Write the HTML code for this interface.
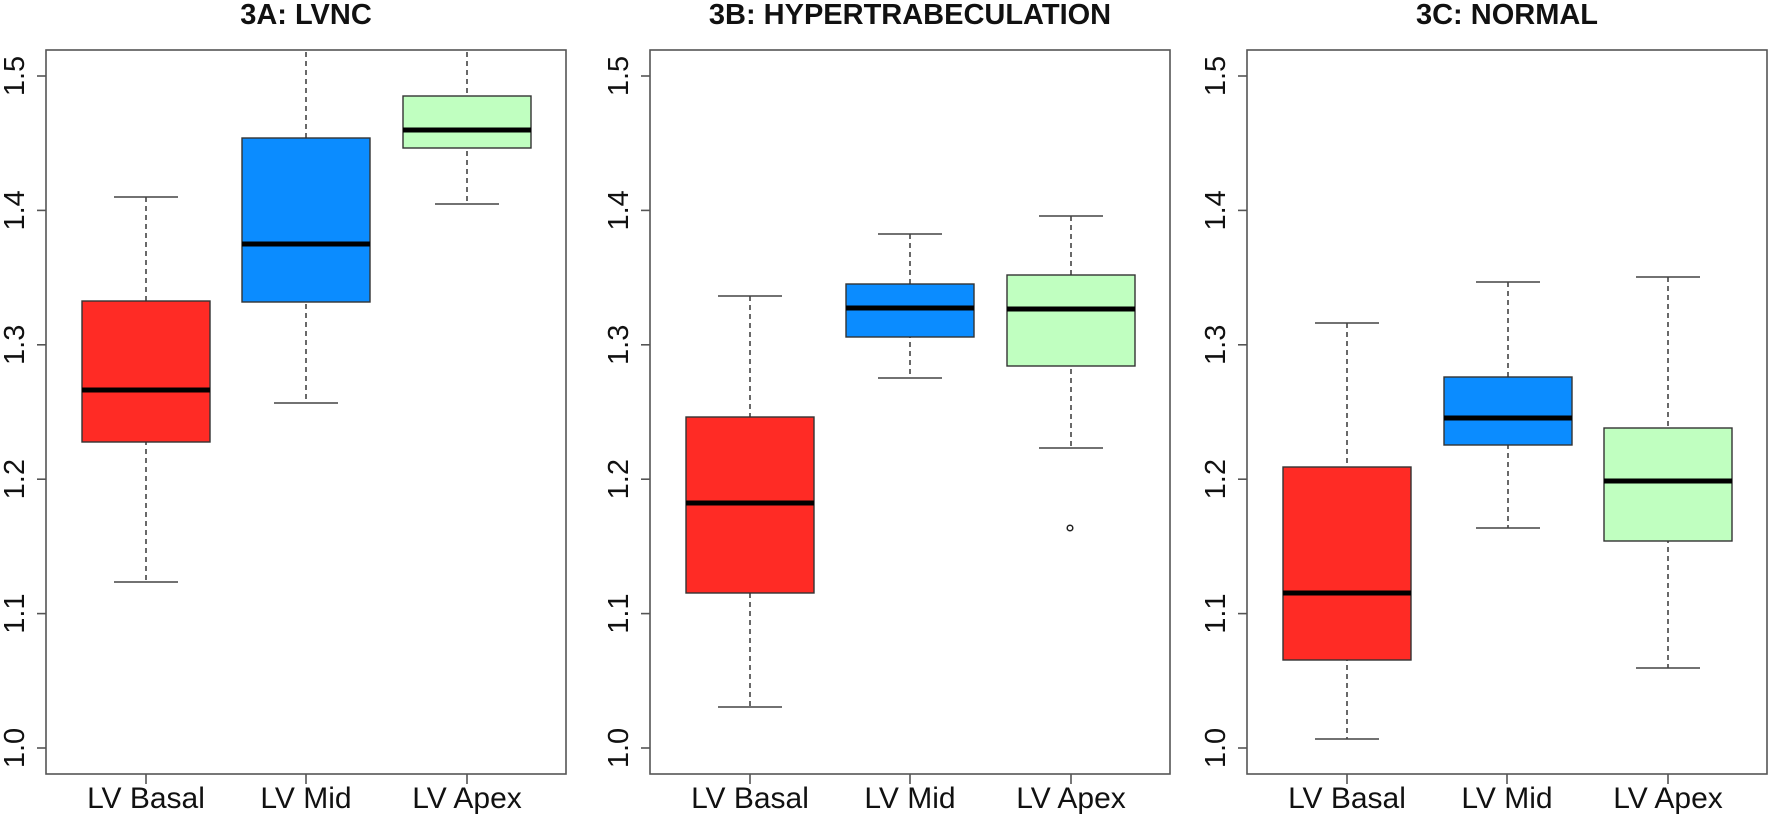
<!DOCTYPE html>
<html><head><meta charset="utf-8"><style>
html,body{margin:0;padding:0;background:#fff;}
svg{display:block;font-family:"Liberation Sans",Arial,sans-serif;}
.ax{fill:none;stroke:#555;stroke-width:1.6}
.wh{stroke:#444;stroke-width:1.6;stroke-dasharray:5,4}
.cap{stroke:#444;stroke-width:1.6}
.bx{stroke:#333;stroke-width:1.4}
.md{stroke:#000;stroke-width:5}
.yl{font-size:29px;fill:#111;text-anchor:middle}
.xl{font-size:30px;fill:#111;text-anchor:middle}
.tt{font-size:29px;font-weight:bold;fill:#111;text-anchor:middle}
</style></head><body>
<svg width="1770" height="816" viewBox="0 0 1770 816" xmlns="http://www.w3.org/2000/svg">
<defs>
<g id="yax">
<line class="ax" x1="-9" y1="76" x2="0" y2="76"/>
<line class="ax" x1="-9" y1="210.4" x2="0" y2="210.4"/>
<line class="ax" x1="-9" y1="344.8" x2="0" y2="344.8"/>
<line class="ax" x1="-9" y1="479.2" x2="0" y2="479.2"/>
<line class="ax" x1="-9" y1="613.6" x2="0" y2="613.6"/>
<line class="ax" x1="-9" y1="748" x2="0" y2="748"/>
<text class="yl" transform="translate(-22,76) rotate(-90)">1.5</text>
<text class="yl" transform="translate(-22,210.4) rotate(-90)">1.4</text>
<text class="yl" transform="translate(-22,344.8) rotate(-90)">1.3</text>
<text class="yl" transform="translate(-22,479.2) rotate(-90)">1.2</text>
<text class="yl" transform="translate(-22,613.6) rotate(-90)">1.1</text>
<text class="yl" transform="translate(-22,748) rotate(-90)">1.0</text>
<rect class="ax" x="0" y="50" width="520" height="724"/>
<line class="ax" x1="100" y1="774" x2="100" y2="784"/>
<line class="ax" x1="260" y1="774" x2="260" y2="784"/>
<line class="ax" x1="421" y1="774" x2="421" y2="784"/>
<text class="xl" x="100" y="808">LV Basal</text>
<text class="xl" x="260" y="808">LV Mid</text>
<text class="xl" x="421" y="808">LV Apex</text>
</g>
</defs>

<!-- Panel A -->
<g transform="translate(46,0)"><use href="#yax"/></g>
<text class="tt" x="306" y="24">3A: LVNC</text>
<!-- A basal -->
<line class="wh" x1="146" y1="197" x2="146" y2="582"/>
<line class="cap" x1="114" y1="197" x2="178" y2="197"/>
<line class="cap" x1="114" y1="582" x2="178" y2="582"/>
<rect class="bx" x="82" y="301" width="128" height="141" fill="#ff2b25"/>
<line class="md" x1="82" y1="390" x2="210" y2="390"/>
<!-- A mid -->
<line class="wh" x1="306" y1="52" x2="306" y2="403"/>
<line class="cap" x1="274" y1="403" x2="338" y2="403"/>
<rect class="bx" x="242" y="138" width="128" height="164" fill="#0b8cff"/>
<line class="md" x1="242" y1="244" x2="370" y2="244"/>
<!-- A apex -->
<line class="wh" x1="467" y1="52" x2="467" y2="204"/>
<line class="cap" x1="435" y1="204" x2="499" y2="204"/>
<rect class="bx" x="403" y="96" width="128" height="52" fill="#c0ffc0"/>
<line class="md" x1="403" y1="130" x2="531" y2="130"/>

<!-- Panel B -->
<g transform="translate(650,0)"><use href="#yax"/></g>
<text class="tt" x="910" y="24">3B: HYPERTRABECULATION</text>
<line class="wh" x1="750" y1="296" x2="750" y2="707"/>
<line class="cap" x1="718" y1="296" x2="782" y2="296"/>
<line class="cap" x1="718" y1="707" x2="782" y2="707"/>
<rect class="bx" x="686" y="417" width="128" height="176" fill="#ff2b25"/>
<line class="md" x1="686" y1="503" x2="814" y2="503"/>

<line class="wh" x1="910" y1="234" x2="910" y2="378"/>
<line class="cap" x1="878" y1="234" x2="942" y2="234"/>
<line class="cap" x1="878" y1="378" x2="942" y2="378"/>
<rect class="bx" x="846" y="284" width="128" height="53" fill="#0b8cff"/>
<line class="md" x1="846" y1="308" x2="974" y2="308"/>

<line class="wh" x1="1071" y1="216" x2="1071" y2="448"/>
<line class="cap" x1="1039" y1="216" x2="1103" y2="216"/>
<line class="cap" x1="1039" y1="448" x2="1103" y2="448"/>
<rect class="bx" x="1007" y="275" width="128" height="91" fill="#c0ffc0"/>
<line class="md" x1="1007" y1="309" x2="1135" y2="309"/>
<circle cx="1070" cy="528" r="2.8" fill="none" stroke="#222" stroke-width="1.5"/>

<!-- Panel C -->
<g transform="translate(1247,0)"><use href="#yax"/></g>
<text class="tt" x="1507" y="24">3C: NORMAL</text>
<line class="wh" x1="1347" y1="323" x2="1347" y2="739"/>
<line class="cap" x1="1315" y1="323" x2="1379" y2="323"/>
<line class="cap" x1="1315" y1="739" x2="1379" y2="739"/>
<rect class="bx" x="1283" y="467" width="128" height="193" fill="#ff2b25"/>
<line class="md" x1="1283" y1="593" x2="1411" y2="593"/>

<line class="wh" x1="1508" y1="282" x2="1508" y2="528"/>
<line class="cap" x1="1476" y1="282" x2="1540" y2="282"/>
<line class="cap" x1="1476" y1="528" x2="1540" y2="528"/>
<rect class="bx" x="1444" y="377" width="128" height="68" fill="#0b8cff"/>
<line class="md" x1="1444" y1="418" x2="1572" y2="418"/>

<line class="wh" x1="1668" y1="277" x2="1668" y2="668"/>
<line class="cap" x1="1636" y1="277" x2="1700" y2="277"/>
<line class="cap" x1="1636" y1="668" x2="1700" y2="668"/>
<rect class="bx" x="1604" y="428" width="128" height="113" fill="#c0ffc0"/>
<line class="md" x1="1604" y1="481" x2="1732" y2="481"/>
</svg>
</body></html>
